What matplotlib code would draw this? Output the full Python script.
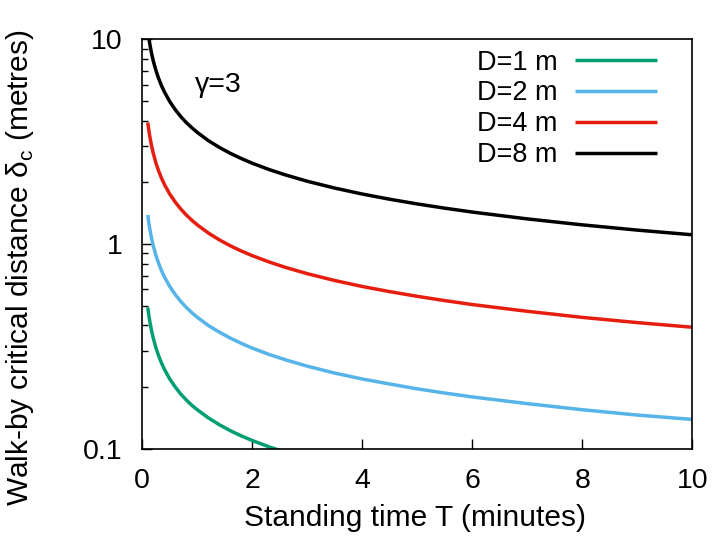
import matplotlib
matplotlib.use("Agg")
import matplotlib.pyplot as plt
from matplotlib.ticker import FixedLocator, LogLocator, NullFormatter, FixedFormatter

plt.rcParams['font.family'] = ['Liberation Sans', 'DejaVu Sans']
plt.rcParams['mathtext.fontset'] = 'custom'
plt.rcParams['mathtext.rm'] = 'Liberation Sans'

# Standing time T (minutes)
T = [0.10, 0.12, 0.14, 0.17, 0.20, 0.25, 0.30, 0.35, 0.40, 0.50, 0.60, 0.70, 0.80, 0.90,
     1.0, 1.2, 1.4, 1.6, 1.8, 2.0, 2.3, 2.6, 3.0, 3.5, 4.0, 4.5, 5.0, 5.5, 6.0, 7.0, 8.0, 9.0, 10.0]
# walk-by critical distance (metres)
d1 = [0.490, 0.447, 0.414, 0.376, 0.347, 0.310, 0.283, 0.262, 0.245, 0.219, 0.200, 0.185, 0.173, 0.163,
      0.155, 0.1415, 0.131, 0.1225, 0.1155, 0.1096, 0.1022, 0.0961, 0.0895, 0.0828, 0.0775, 0.0731,
      0.0693, 0.0661, 0.0633, 0.0586, 0.0548, 0.0517, 0.049]
d2 = [1.387, 1.266, 1.172, 1.063, 0.980, 0.877, 0.801, 0.741, 0.693, 0.620, 0.566, 0.524, 0.490, 0.462,
      0.4385, 0.400, 0.371, 0.347, 0.327, 0.310, 0.289, 0.272, 0.253, 0.234, 0.219, 0.207,
      0.196, 0.187, 0.179, 0.166, 0.155, 0.146, 0.139]
d4 = [3.92, 3.58, 3.315, 3.007, 2.773, 2.48, 2.264, 2.096, 1.960, 1.753, 1.601, 1.482, 1.386, 1.307,
      1.240, 1.132, 1.048, 0.980, 0.924, 0.877, 0.818, 0.769, 0.716, 0.663, 0.620, 0.585,
      0.555, 0.529, 0.506, 0.469, 0.438, 0.413, 0.392]
d8 = [11.09, 10.13, 9.38, 8.51, 7.84, 7.02, 6.41, 5.93, 5.55, 4.96, 4.53, 4.19, 3.92, 3.70,
      3.51, 3.20, 2.965, 2.773, 2.615, 2.48, 2.313, 2.176, 2.025, 1.875, 1.754, 1.654,
      1.569, 1.496, 1.432, 1.326, 1.240, 1.169, 1.109]
labels = ['D=1 m', 'D=2 m', 'D=4 m', 'D=8 m']
colors = ['#009E73', '#56B4E9', '#E51E10', '#000000']
xticks = [0, 2, 4, 6, 8, 10]
yticks = [0.1, 1, 10]
ytick_labels = ['0.1', '1', '10']

fig = plt.figure(figsize=(7.24, 5.44), dpi=100)
ax = fig.add_axes([0.1965, 0.1752, 0.7597, 0.7526])

for d, lab, c in zip([d1, d2, d4, d8], labels, colors):
    ax.plot(T, d, color=c, lw=2.5, label=lab, solid_capstyle='butt', solid_joinstyle='round')

ax.set_yscale('log')
ax.set_xlim(0, 10)
ax.set_ylim(0.1, 10)
ax.xaxis.set_major_locator(FixedLocator(xticks))
ax.yaxis.set_major_locator(FixedLocator(yticks))
ax.yaxis.set_major_formatter(FixedFormatter(ytick_labels))
ax.yaxis.set_minor_locator(LogLocator(base=10, subs=range(2, 10)))
ax.yaxis.set_minor_formatter(NullFormatter())
ax.tick_params(axis='both', which='major', direction='in', length=7, width=1.0,
               labelsize=20.5, top=False, right=False)
ax.tick_params(axis='x', which='major', pad=14)
ax.tick_params(axis='y', which='major', pad=14)
ax.tick_params(axis='y', which='minor', direction='in', length=4.5, width=1.0, right=False)
for s in ax.spines.values():
    s.set_linewidth(1.2)

ax.set_xlabel('Standing time T (minutes)', fontsize=21.5)
ax.set_ylabel('Walk-by critical distance δ$_\\mathregular{c}$ (metres)', fontsize=21.5)
ax.xaxis.set_label_coords(0.496, -0.135)
ax.yaxis.set_label_coords(-0.193, 0.443)

ax.text(0.96, 6.0, 'γ=3', fontsize=20.5, ha='left', va='center')

leg = ax.legend(loc='upper right', bbox_to_anchor=(0.936, 0.975), frameon=False,
                markerfirst=False, fontsize=19.5, handlelength=3.03, handletextpad=0.66,
                labelspacing=0.18, borderaxespad=0, borderpad=0)
for t in leg.get_texts():
    t.set_ha('right')

fig.savefig('out.png', dpi=100)
